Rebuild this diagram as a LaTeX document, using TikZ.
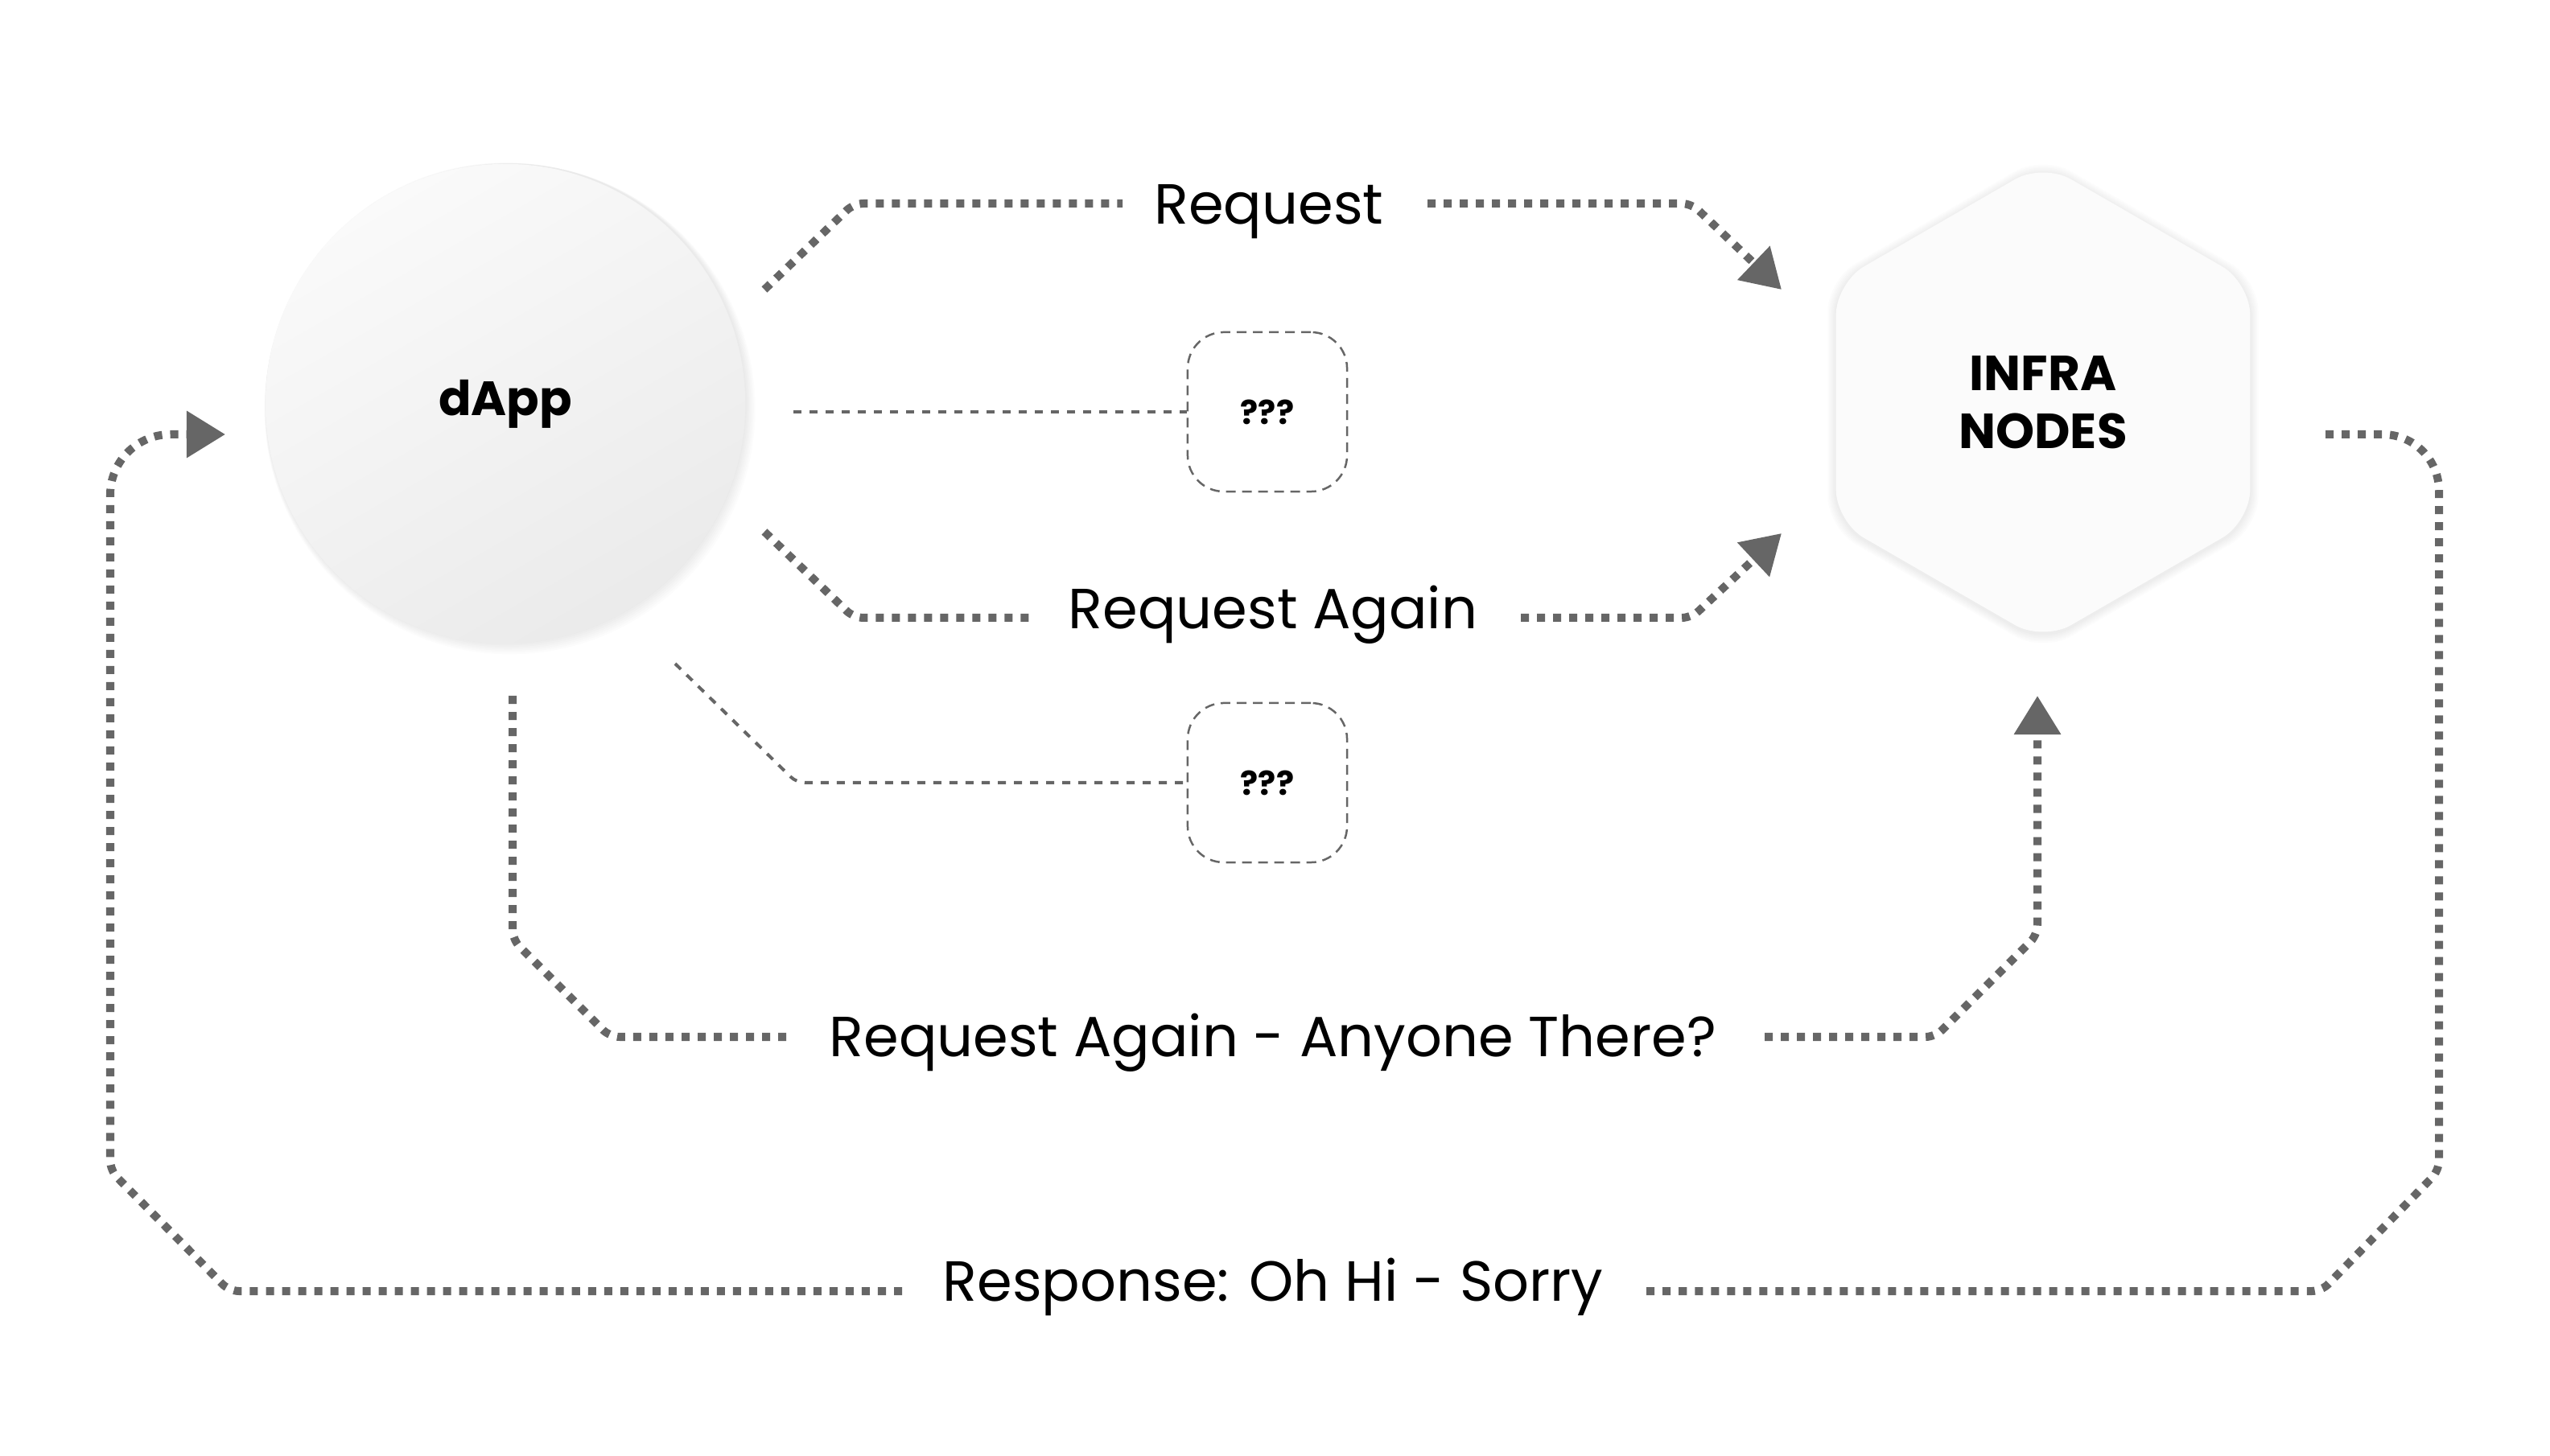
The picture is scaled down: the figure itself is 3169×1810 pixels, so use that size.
\documentclass[tikz,border=0pt]{standalone}
\usepackage{fontspec}
\setmainfont{Poppins}
\usetikzlibrary{arrows.meta,shapes.geometric}
\definecolor{linegray}{HTML}{666666}
\tikzset{
  dotline/.style={draw=linegray,line width=0.1cm,dash pattern=on 0.1cm off 0.1cm},
  thinline/.style={draw=linegray,line width=0.04cm,dash pattern=on 0.1cm off 0.1cm},
  tip/.style={-{Triangle[length=0.48cm,width=0.56cm]},linegray},
  msg/.style={anchor=base,font=\fontsize{20}{24}\selectfont},
  qbox/.style={draw=linegray,line width=0.025cm,dash pattern=on 0.12cm off 0.08cm,
    rounded corners=0.45cm,minimum size=1.98cm,font=\bfseries\fontsize{11.7}{14}\selectfont}
}
\begin{document}
\begin{tikzpicture}[x=0.01cm,y=-0.01cm]
   \useasboundingbox (0,0) rectangle (3169,1810);
   % soft shadows
   \foreach \s in {2,4,...,14}
      \fill [black,opacity=0.012] ({628+0.4*\s},{500+0.6*\s}) circle ({298+0.5*\s});
   \foreach \s in {2,4,...,12}
      \node [regular polygon,regular polygon sides=6,shape border rotate=30,
        minimum size={(5.94+0.02*\s)*1cm},rounded corners=0.4cm,fill=black,opacity=0.01] at (2539,502) {};
   % main shapes
   \node [circle,minimum size=5.96cm,top color=white!98!black,bottom color=white!92!black,
     shading angle=30,font=\bfseries\fontsize{17}{20}\selectfont] (dapp) at (628,502) {dApp};
   \node [regular polygon,regular polygon sides=6,shape border rotate=30,minimum size=5.94cm,
     rounded corners=0.4cm,fill=white!98.5!black,align=center,
     font=\bfseries\fontsize{17.4}{20.5}\selectfont] (infra) at (2539,500) {INFRA\\NODES};
   \node [qbox] (q1) at (1575,512) {???};
   \node [qbox] (q2) at (1575,973) {???};
   % labels
   \node [msg] (req) at (1577,279) {Request};
   \node [msg] (reqa) at (1582,782) {Request Again};
   \node [msg] (anyone) at (1582,1313) {Request Again - Anyone There?};
   \node [msg] (resp) at (1582,1617) {Response: Oh Hi - Sorry};
   % corner points
   \coordinate (a1) at (950,360);  \coordinate (a2) at (1061,253);
   \coordinate (a3) at (1395,253); \coordinate (a4) at (1774,253);
   \coordinate (a5) at (2102,253); \coordinate (a6) at (2214,360);
   \coordinate (b1) at (950,661);  \coordinate (b2) at (1061,768);
   \coordinate (b3) at (1279,768); \coordinate (b4) at (1890,768);
   \coordinate (b5) at (2102,768); \coordinate (b6) at (2214,663);
   \coordinate (c1) at (637,865);  \coordinate (c2) at (637,1168);
   \coordinate (c3) at (758,1289); \coordinate (c4) at (980,1289);
   \coordinate (c5) at (2193,1289); \coordinate (c6) at (2405,1289);
   \coordinate (c7) at (2532,1162); \coordinate (c8) at (2532,865);
   \coordinate (d1) at (2890,540); \coordinate (d2) at (3031,540);
   \coordinate (d3) at (3031,1455); \coordinate (d4) at (2885,1605);
   \coordinate (d5) at (2045,1605); \coordinate (d6) at (1121,1605);
   \coordinate (d7) at (285,1605); \coordinate (d8) at (137,1455);
   \coordinate (d9) at (137,540);  \coordinate (d10) at (280,540);
   \coordinate (e1) at (986,512);  \coordinate (e2) at (839,825);
   \coordinate (e3) at (990,973);
   % request lines
   \draw [dotline,rounded corners=0.12cm] (a1)--(a2)--(a3);
   \draw [dotline,tip,rounded corners=0.12cm] (a4)--(a5)--(a6);
   \draw [dotline,rounded corners=0.12cm] (b1)--(b2)--(b3);
   \draw [dotline,tip,rounded corners=0.12cm] (b4)--(b5)--(b6);
   \draw [dotline,rounded corners=0.12cm] (c1)--(c2)--(c3)--(c4);
   \draw [dotline,tip,rounded corners=0.12cm] (c5)--(c6)--(c7)--(c8);
   % response line
   \draw [dotline,rounded corners=0.7cm] (d1)--(d2) [rounded corners=0.12cm] --(d3)--(d4)--(d5);
   \draw [dotline,tip,rounded corners=0.12cm] (d6)--(d7)--(d8) [rounded corners=0.75cm] --(d9)--(d10);
   % unanswered
   \draw [thinline] (e1)--(q1.west);
   \draw [thinline,rounded corners=0.1cm] (e2)--(e3)--(q2.west);
\end{tikzpicture}
\end{document}
